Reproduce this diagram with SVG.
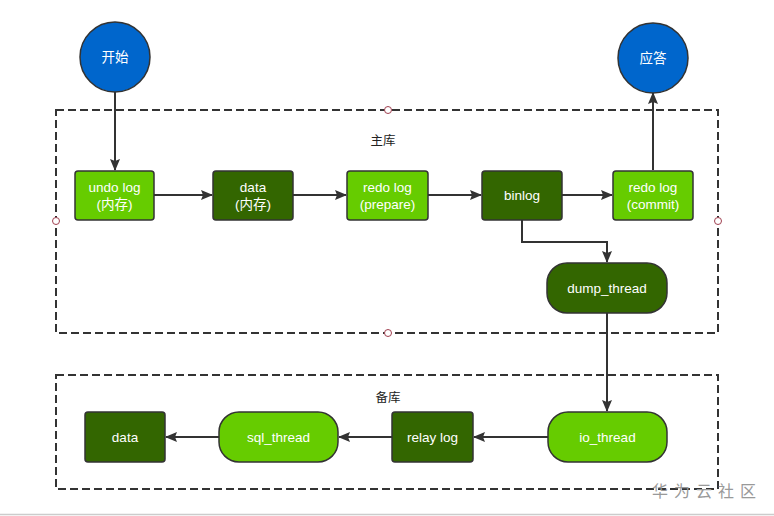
<svg xmlns="http://www.w3.org/2000/svg" width="774" height="516" viewBox="0 0 774 516">
<style>
.lg{fill:#66CC00;stroke:#333;stroke-width:1.5}
.dg{fill:#336600;stroke:#333;stroke-width:1.5}
.ci{fill:#0066CC;stroke:#333;stroke-width:1.5}
.t{fill:#fff;font-family:"Liberation Sans","Noto Sans CJK SC",sans-serif;font-size:13.5px;text-anchor:middle}
.b{fill:#222;font-family:"Liberation Sans","Noto Sans CJK SC",sans-serif;font-size:12.5px;text-anchor:middle}
.box{fill:none;stroke:#333;stroke-width:2;stroke-dasharray:8 4}
.pt{fill:#fff;stroke:#a04050;stroke-width:1}
.c{fill:none;stroke:#333;stroke-width:2;marker-end:url(#ah)}
</style>
<defs>
<marker id="ah" viewBox="0 0 12 10" refX="11" refY="5" markerWidth="12" markerHeight="10" markerUnits="userSpaceOnUse" orient="auto">
<path d="M0,0 L12,5 L0,10 L2,5 z" fill="#333"/>
</marker>
</defs>
<rect width="774" height="516" fill="#fff"/>
<line x1="0" y1="514.5" x2="774" y2="514.5" stroke="#ccc" stroke-width="1.5"/>
<g id="master">
<rect class="box" x="56" y="110" width="662" height="223"/>
<circle class="pt" cx="388" cy="110" r="3.5"/>
<circle class="pt" cx="56" cy="221" r="3.5"/>
<circle class="pt" cx="718" cy="221" r="3.5"/>
<circle class="pt" cx="388" cy="333" r="3.5"/>
<text class="b" x="383" y="145">主库</text>
</g>
<g id="slave">
<rect class="box" x="56" y="375" width="662" height="114"/>
<text class="b" x="388" y="402">备库</text>
</g>
<g id="connectors">
<path class="c" d="M115,92 V170"/>
<path class="c" d="M154,195 H212"/>
<path class="c" d="M293,195 H346"/>
<path class="c" d="M428,195 H481"/>
<path class="c" d="M562,195 H612"/>
<path class="c" d="M653,170 V93"/>
<path class="c" d="M522,220 V242 H607 V262"/>
<path class="c" d="M607,313 V411"/>
<path class="c" d="M548,437 H474"/>
<path class="c" d="M392,437 H339"/>
<path class="c" d="M219,437 H166"/>
</g>
<g id="start"><circle class="ci" cx="115" cy="57" r="35"/><text class="t" x="115" y="62">开始</text></g>
<g id="answer"><circle class="ci" cx="653" cy="58" r="35"/><text class="t" x="653" y="63">应答</text></g>
<g id="undolog"><rect class="lg" x="75" y="171" width="79" height="49" rx="3"/><text class="t" x="114.5" y="192">undo log</text><text class="t" x="114.5" y="209">(内存)</text></g>
<g id="data1"><rect class="dg" x="213" y="171" width="80" height="49" rx="3"/><text class="t" x="253" y="192">data</text><text class="t" x="253" y="209">(内存)</text></g>
<g id="redoprepare"><rect class="lg" x="347" y="171" width="81" height="49" rx="3"/><text class="t" x="387.5" y="192">redo log</text><text class="t" x="387.5" y="209">(prepare)</text></g>
<g id="binlog"><rect class="dg" x="482" y="171" width="80" height="49" rx="3"/><text class="t" x="522" y="200">binlog</text></g>
<g id="redocommit"><rect class="lg" x="613" y="171" width="80" height="49" rx="3"/><text class="t" x="653" y="192">redo log</text><text class="t" x="653" y="209">(commit)</text></g>
<g id="dumpthread"><rect class="dg" x="547" y="263" width="120" height="50" rx="20"/><text class="t" x="607" y="293">dump_thread</text></g>
<g id="iothread"><rect class="lg" x="548" y="412" width="119" height="50" rx="20"/><text class="t" x="607.5" y="442">io_thread</text></g>
<g id="relaylog"><rect class="dg" x="392" y="412" width="81" height="50" rx="3"/><text class="t" x="432.5" y="442">relay log</text></g>
<g id="sqlthread"><rect class="lg" x="219" y="412" width="119" height="50" rx="20"/><text class="t" x="278.5" y="442">sql_thread</text></g>
<g id="data2"><rect class="dg" x="85" y="412" width="80" height="50" rx="3"/><text class="t" x="125" y="442">data</text></g>
<text x="652" y="497" font-family="'Noto Sans CJK SC',sans-serif" font-size="16" fill="#999" letter-spacing="6">华为云社区</text>
</svg>
